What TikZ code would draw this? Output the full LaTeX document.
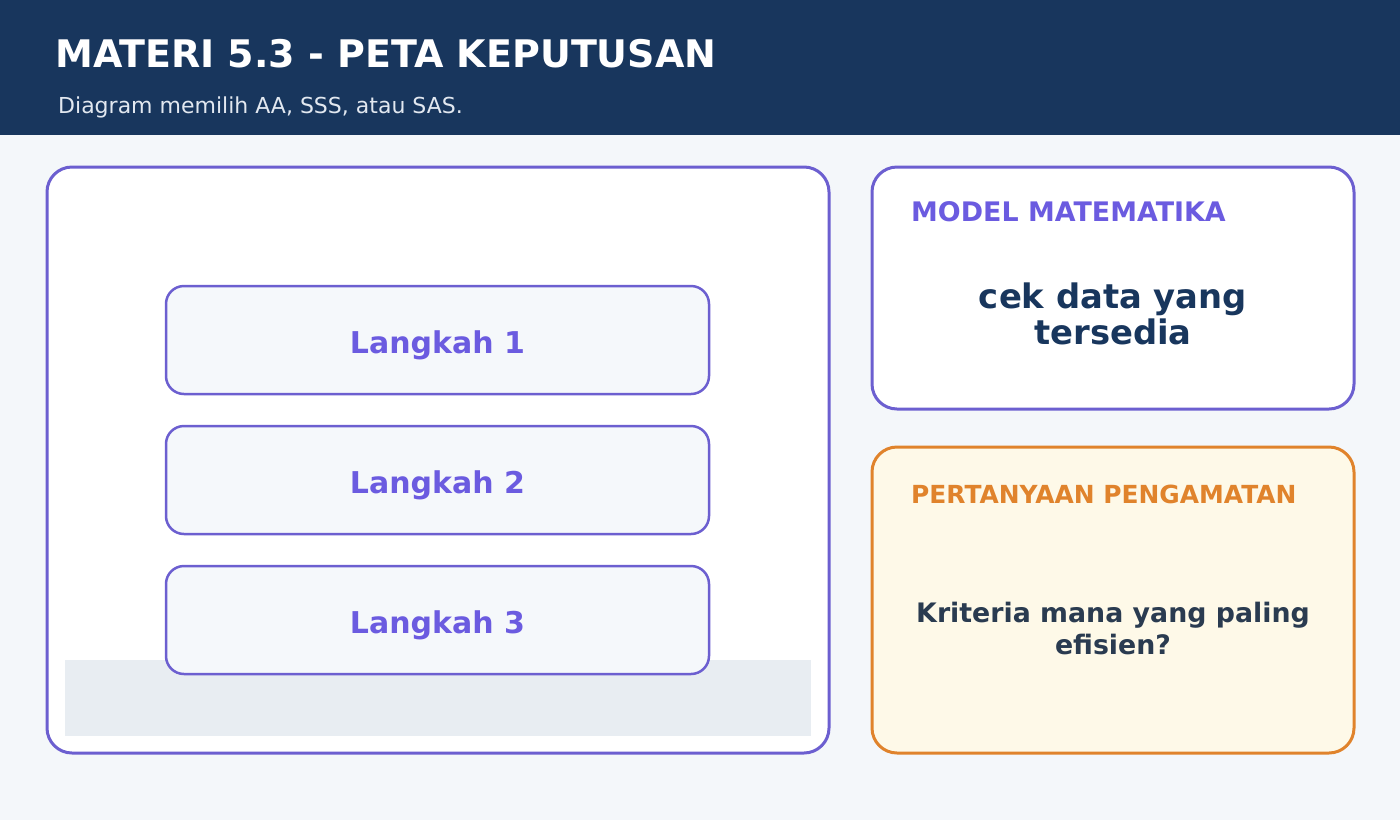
\documentclass[tikz,border=0pt]{standalone}
\usepackage{fontspec}
\setmainfont{DejaVu Sans}
\definecolor{bg}{HTML}{F4F7FA}
\definecolor{navy}{HTML}{18365D}
\definecolor{subt}{HTML}{E2E8F0}
\definecolor{purp}{HTML}{6C5FD0}
\definecolor{purptxt}{HTML}{6B5BE0}
\definecolor{stepfill}{HTML}{F5F8FB}
\definecolor{band}{HTML}{E8EDF2}
\definecolor{orng}{HTML}{E0832C}
\definecolor{cream}{HTML}{FEF9E8}
\definecolor{slate}{HTML}{2A3B50}
\tikzset{
  panel/.style={draw=purp, line width=3pt, rounded corners=25pt, fill=white, inner sep=0pt},
  stepbox/.style={draw=purp, line width=2.5pt, rounded corners=18pt, fill=stepfill, minimum width=543pt, minimum height=108pt, inner sep=0pt},
  steptxt/.style={text=purptxt, font=\bfseries\fontsize{30}{34}\selectfont, anchor=base, inner sep=0pt},
  labeltxt/.style={font=\bfseries, anchor=base west, inner sep=0pt},
  bodytxt/.style={font=\bfseries, anchor=base, inner sep=0pt, align=center},
}
\begin{document}
\begin{tikzpicture}[x=1pt,y=-1pt]
\useasboundingbox (0,0) rectangle (1400,820);
\fill[bg] (0,0) rectangle (1400,820);
\fill[navy] (0,0) rectangle (1400,135);
\node[labeltxt, text=white, font=\bfseries\fontsize{38}{40}\selectfont] (title) at (55,67) {MATERI 5.3 - PETA KEPUTUSAN};
\node[anchor=base west, inner sep=0pt, text=subt, font=\fontsize{22}{24}\selectfont] (subtitle) at (58,113) {Diagram memilih AA, SSS, atau SAS.};
% left panel
\draw[panel] (47,167) rectangle (829,753);
\fill[band] (65,660) rectangle (811,736);
\node[stepbox] (s1) at (437.5,340) {};
\node[stepbox] (s2) at (437.5,480) {};
\node[stepbox] (s3) at (437.5,620) {};
\node[steptxt] (t1) at (437.5,353) {Langkah 1};
\node[steptxt] (t2) at (437.5,493) {Langkah 2};
\node[steptxt] (t3) at (437.5,633) {Langkah 3};
% right top panel
\draw[panel] (872,167) rectangle (1354,409);
\node[labeltxt, text=purptxt, font=\bfseries\fontsize{26.9}{30}\selectfont] (mhead) at (911,221) {MODEL MATEMATIKA};
\node[bodytxt, text=navy, font=\bfseries\fontsize{33.8}{36}\selectfont] (m1) at (1113,308) {cek data yang};
\node[bodytxt, text=navy, font=\bfseries\fontsize{33.8}{36}\selectfont] (m2) at (1113,344) {tersedia};
% right bottom panel
\draw[panel, draw=orng, fill=cream] (872,447) rectangle (1354,753);
\node[labeltxt, text=orng, font=\bfseries\fontsize{24.9}{28}\selectfont] (qhead) at (911,503) {PERTANYAAN PENGAMATAN};
\node[bodytxt, text=slate, font=\bfseries\fontsize{26.8}{32}\selectfont] (q1) at (1113,622) {Kriteria mana yang paling};
\node[bodytxt, text=slate, font=\bfseries\fontsize{26.8}{32}\selectfont] (q2) at (1113,654) {efisien?};
\end{tikzpicture}
\end{document}
